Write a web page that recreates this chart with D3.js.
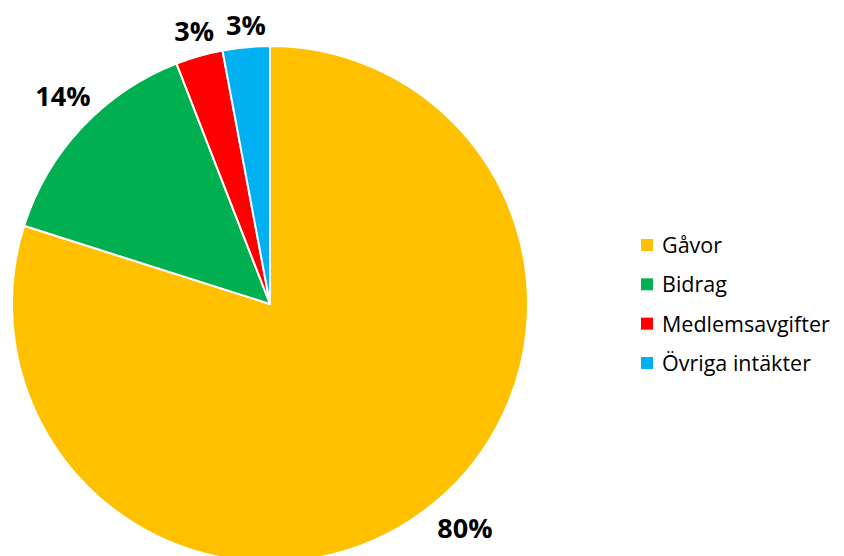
<!DOCTYPE html>
<html>
<head>
<meta charset="utf-8">
<script src="https://cdn.jsdelivr.net/npm/d3@7"></script>
<style>
  body { margin: 0; background: #fff; }
  svg { display: block; }
</style>
</head>
<body>
<svg width="844" height="556"></svg>
<script>
var categories = ["Gåvor", "Bidrag", "Medlemsavgifter", "Övriga intäkter"]
var values = [79.9, 14.2, 2.95, 2.95]
var colors = ["#FFC000", "#00B050", "#FF0000", "#00B0F0"]

var svg = d3.select("svg")
var W = 844, H = 556
var cx = 270, cy = 304, R = 258

var pie = d3.pie().sort(null).value(d => d)
var arc = d3.arc().innerRadius(0).outerRadius(R)
var arcs = pie(values)
var total = d3.sum(values)

var g = svg.append("g").attr("transform", "translate(" + cx + "," + cy + ")")

// Tortbitar
g.selectAll("path").data(arcs).enter().append("path")
    .attr("d", arc)
    .attr("fill", (d, i) => colors[i])
    .attr("stroke", "#fff").attr("stroke-width", 2)
    .attr("stroke-linejoin", "round")

// Procentetiketter utanför kanten
var labels = g.selectAll("text.lbl").data(arcs).enter().append("text")
    .attr("class", "lbl")
    .attr("text-anchor", "middle")
    .attr("dy", "0.35em")
    .style("font-family", "'Open Sans', sans-serif")
    .style("font-weight", "bold")
    .style("font-size", "27px")
    .attr("fill", "#000")
    .text(d => Math.round(d.value / total * 100) + "%")

labels.each(function (d) {
    var bb = this.getBBox()
    var span = d.endAngle - d.startAngle
    var a = (d.startAngle + d.endAngle) / 2 + 0.035 * span
    var s = Math.sin(a), c = Math.cos(a)
    var dist = R + 4 + Math.abs(s) * bb.width / 2 + Math.abs(c) * 16
    var x = s * dist, y = -c * dist
    // innanför bildens nederkant
    var maxY = H - cy - 27
    if (y > maxY) {
        a = (d.startAngle + d.endAngle) / 2
        s = Math.sin(a); c = Math.cos(a)
        dist = R + 4 + Math.abs(s) * bb.width / 2 + Math.abs(c) * 16
        y = maxY
        x = Math.sign(s) * Math.sqrt(Math.max(0, dist * dist - y * y)) + 10
    }
    d3.select(this).attr("x", x).attr("y", y)
})

// Förklaring
var ly = d3.scalePoint().domain(categories).range([245, 363])
var leg = svg.selectAll("g.leg").data(categories).enter().append("g")
    .attr("class", "leg")
    .attr("transform", d => "translate(641," + ly(d) + ")")

leg.append("rect")
    .attr("x", 0).attr("y", -6).attr("width", 12).attr("height", 12)
    .attr("fill", (d, i) => colors[i])

leg.append("text")
    .attr("x", 21).attr("y", 8)
    .style("font-family", "'Open Sans', sans-serif")
    .style("font-size", "21.5px")
    .attr("fill", "#000")
    .text(d => d)
</script>
</body>
</html>
